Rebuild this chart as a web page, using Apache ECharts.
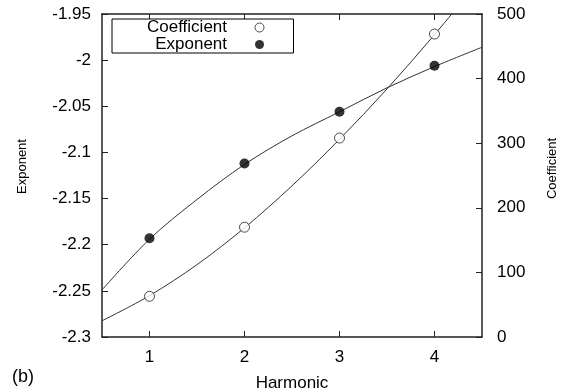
<!DOCTYPE html>
<html>
<head>
<meta charset="utf-8">
<script src="https://cdn.jsdelivr.net/npm/echarts@6/dist/echarts.min.js"></script>
<style>
  html, body { margin: 0; padding: 0; background: #fff; }
  #chart { width: 564px; height: 391px; }
</style>
</head>
<body>
<div id="chart"></div>
<script>
// Measured points per harmonic
const harmonics = [1, 2, 3, 4];
const exponentValues = [-2.193, -2.112, -2.056, -2.006];
const coefficientValues = [63, 170, 308, 469];

// Fitted curves, sampled along the harmonic axis
const fitHarmonics = [0.5, 1.0, 1.5, 2.0, 2.5, 3.0, 3.5, 4.0, 4.5];
const exponentFit = [-2.249, -2.194, -2.151, -2.113, -2.082, -2.056, -2.030, -2.007, -1.986];
const coefficientFit = [25, 64, 112, 169, 234, 306, 384, 468, 557];

// Axis tick positions
const harmonicTicks = [1, 2, 3, 4];

const FONT = "'Liberation Sans', Arial, Helvetica, sans-serif";
const INK = '#222';

const pairs = (xs, ys) => xs.map((x, i) => [x, ys[i]]);

const chart = echarts.init(document.getElementById('chart'), null, { renderer: 'canvas' });

chart.setOption({
  animation: false,
  backgroundColor: '#fff',
  grid: { left: 102, right: 82, top: 14, bottom: 54, containLabel: false, outerBoundsMode: 'none' },
  legend: {
    data: [
      { name: 'Coefficient', itemStyle: { color: '#fff', borderColor: '#222', borderWidth: 1 } },
      { name: 'Exponent', itemStyle: { color: '#000', borderWidth: 0 } }
    ],
    orient: 'vertical',
    align: 'right',
    left: 112,
    top: 19,
    padding: [0, 29, 0, 35],
    itemGap: 0,
    itemWidth: 9,
    itemHeight: 9,
    borderColor: '#000',
    borderWidth: 1,
    backgroundColor: '#fff',
    textStyle: { fontFamily: FONT, fontSize: 17, color: '#000', lineHeight: 17, padding: [0, 23, 0, 0] }
  },
  xAxis: [
    {
      type: 'value', min: 0.5, max: 4.5,
      name: 'Harmonic', nameLocation: 'middle', nameGap: 38,
      nameTextStyle: { fontFamily: FONT, fontSize: 17, color: '#000' },
      axisLine: { show: true, lineStyle: { color: INK, width: 1.5 } },
      axisTick: { show: true, inside: true, length: 6, customValues: harmonicTicks, lineStyle: { color: INK, width: 1 } },
      axisLabel: { customValues: harmonicTicks, fontFamily: FONT, fontSize: 17, color: '#000', margin: 12 },
      splitLine: { show: false }
    },
    {
      type: 'value', min: 0.5, max: 4.5, position: 'top',
      axisLine: { show: true, lineStyle: { color: INK, width: 1.5 } },
      axisTick: { show: true, inside: true, length: 6, customValues: harmonicTicks, lineStyle: { color: INK, width: 1 } },
      axisLabel: { show: false },
      splitLine: { show: false }
    }
  ],
  yAxis: [
    {
      type: 'value', min: -2.3, max: -1.95, interval: 0.05, position: 'left',
      name: 'Exponent', nameLocation: 'middle', nameGap: 73,
      nameTextStyle: { fontFamily: FONT, fontSize: 13, color: '#000', padding: [0, 0, 0, 18] },
      axisLine: { show: true, lineStyle: { color: INK, width: 1.5 } },
      axisTick: { show: true, inside: true, length: 6, lineStyle: { color: INK, width: 1 } },
      axisLabel: {
        fontFamily: FONT, fontSize: 17, color: '#000', margin: 11,
        formatter: v => String(parseFloat(v.toFixed(2)))
      },
      splitLine: { show: false }
    },
    {
      type: 'value', min: 0, max: 500, interval: 100, position: 'right',
      name: 'Coefficient', nameLocation: 'middle', nameGap: 64,
      nameTextStyle: { fontFamily: FONT, fontSize: 13, color: '#000', padding: [0, 0, 0, 14] },
      axisLine: { show: true, lineStyle: { color: INK, width: 1.5 } },
      axisTick: { show: true, inside: true, length: 6, lineStyle: { color: INK, width: 1 } },
      axisLabel: { fontFamily: FONT, fontSize: 17, color: '#000', margin: 15 },
      splitLine: { show: false }
    }
  ],
  graphic: [
    { type: 'text', left: 12, top: 368, style: { text: '(b)', fontFamily: FONT, fontSize: 18, fill: '#000' } }
  ],
  series: [
    {
      name: 'Coefficient fit', type: 'line', xAxisIndex: 0, yAxisIndex: 1,
      data: pairs(fitHarmonics, coefficientFit),
      smooth: 0.33, showSymbol: false, silent: true, clip: true,
      lineStyle: { color: '#333', width: 1 }, z: 2
    },
    {
      name: 'Exponent fit', type: 'line', xAxisIndex: 0, yAxisIndex: 0,
      data: pairs(fitHarmonics, exponentFit),
      smooth: 0.33, showSymbol: false, silent: true, clip: true,
      lineStyle: { color: '#333', width: 1 }, z: 2
    },
    {
      name: 'Coefficient', type: 'scatter', xAxisIndex: 0, yAxisIndex: 1,
      data: pairs(harmonics, coefficientValues),
      symbol: 'circle', symbolSize: 10,
      itemStyle: { color: '#fff', borderColor: '#222', borderWidth: 1 }, z: 3
    },
    {
      name: 'Exponent', type: 'scatter', xAxisIndex: 0, yAxisIndex: 0,
      data: pairs(harmonics, exponentValues),
      symbol: 'circle', symbolSize: 10,
      itemStyle: { color: '#000' }, z: 3
    }
  ]
});
</script>
</body>
</html>
